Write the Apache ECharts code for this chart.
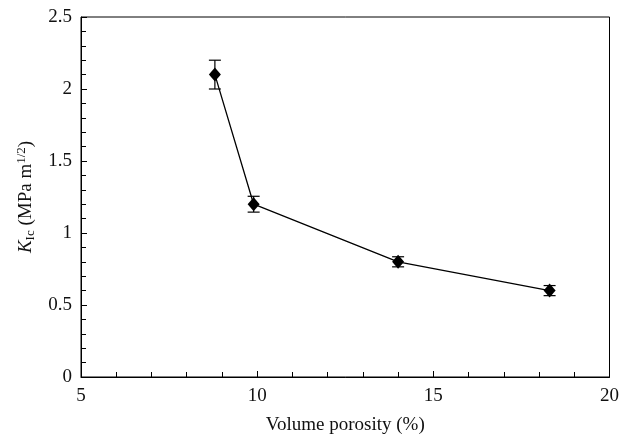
<!DOCTYPE html>
<html>
<head>
<meta charset="utf-8">
<script src="https://cdn.jsdelivr.net/npm/echarts@6/dist/echarts.min.js"></script>
<style>
  html, body { margin: 0; padding: 0; background: #fff; }
  #main { width: 622px; height: 441px; }
</style>
</head>
<body>
<div id="main"></div>
<script>
// 数据：体积孔隙率 (%) 与断裂韧性 KIc
var porosity = [8.8, 9.9, 14.0, 18.3];
var kic = [2.1, 1.2, 0.8, 0.6];
var kicErr = [0.1, 0.055, 0.035, 0.035];
var xTicks = [5, 10, 15, 20];
var yTicks = [0, 0.5, 1, 1.5, 2, 2.5];

var fontFam = '"Liberation Serif", "DejaVu Serif", serif';

var pts = [];
var errDat = [];
for (var i = 0; i < porosity.length; i++) {
  pts.push([porosity[i], kic[i]]);
  errDat.push([porosity[i], kic[i] - kicErr[i], kic[i] + kicErr[i]]);
}

function renderErr(params, api) {
  var x = api.value(0);
  var lo = api.coord([x, api.value(1)]);
  var hi = api.coord([x, api.value(2)]);
  var w = 6;//误差棒帽宽的一半
  var st = { stroke: '#000', lineWidth: 1.2 };
  return {
    type: 'group',
    children: [
      { type: 'line', shape: { x1: lo[0], y1: lo[1], x2: hi[0], y2: hi[1] }, style: st },
      { type: 'line', shape: { x1: lo[0] - w, y1: lo[1], x2: lo[0] + w, y2: lo[1] }, style: st },
      { type: 'line', shape: { x1: hi[0] - w, y1: hi[1], x2: hi[0] + w, y2: hi[1] }, style: st }
    ]
  };
}

var chart = echarts.init(document.getElementById('main'), null, { renderer: 'canvas' });
var option = {
  animation: false,
  backgroundColor: '#fff',
  grid: {
    left: 81, right: 11, top: 17, bottom: 64,
    show: true,
    borderColor: '#000',
    borderWidth: 1
  },
  xAxis: {
    type: 'value',
    min: xTicks[0],
    max: xTicks[xTicks.length - 1],
    interval: 5,
    name: 'Volume porosity (%)',
    nameLocation: 'middle',
    nameGap: 39,
    nameTextStyle: { fontFamily: fontFam, fontSize: 19, color: '#111' },
    axisLine: { lineStyle: { color: '#000', width: 1 } },
    axisTick: { inside: true, length: 6, lineStyle: { color: '#000' } },
    minorTick: { show: true, splitNumber: 5, length: 5, lineStyle: { color: '#000' } },
    axisLabel: { fontFamily: fontFam, fontSize: 19, color: '#111', margin: 10 },
    splitLine: { show: false }
  },
  yAxis: {
    type: 'value',
    min: yTicks[0],
    max: yTicks[yTicks.length - 1],
    interval: 0.5,
    name: '{k|K}{s|Ic}{t| (MPa m}{p|1/2}{t|)}',
    nameLocation: 'middle',
    nameGap: 37,
    nameRotate: 90,
    nameTextStyle: {
      fontFamily: fontFam, fontSize: 19, color: '#111',
      rich: {
        k: { fontFamily: fontFam, fontSize: 19, fontStyle: 'italic', color: '#111' },
        s: { fontFamily: fontFam, fontSize: 13, color: '#111', padding: [9, 0, 0, 0] },
        t: { fontFamily: fontFam, fontSize: 19, color: '#111' },
        p: { fontFamily: fontFam, fontSize: 13, color: '#111', padding: [0, 0, 9, 0] }
      }
    },
    axisLine: { lineStyle: { color: '#000', width: 1 } },
    axisTick: { inside: true, length: 6, lineStyle: { color: '#000' } },
    minorTick: { show: true, splitNumber: 5, length: 5, lineStyle: { color: '#000' } },
    axisLabel: {
      fontFamily: fontFam, fontSize: 19, color: '#111', margin: 9,
      formatter: function (v) { return String(v); }
    },
    splitLine: { show: false }
  },
  series: [{
    type: 'line',
    data: pts,
    symbol: 'diamond',
    symbolSize: [12, 14],
    itemStyle: { color: '#000' },
    lineStyle: { color: '#000', width: 1.3 },
    z: 3
  }, {
    type: 'custom',
    data: errDat,
    renderItem: renderErr,
    z: 2
  }]
};
chart.setOption(option);
</script>
</body>
</html>
